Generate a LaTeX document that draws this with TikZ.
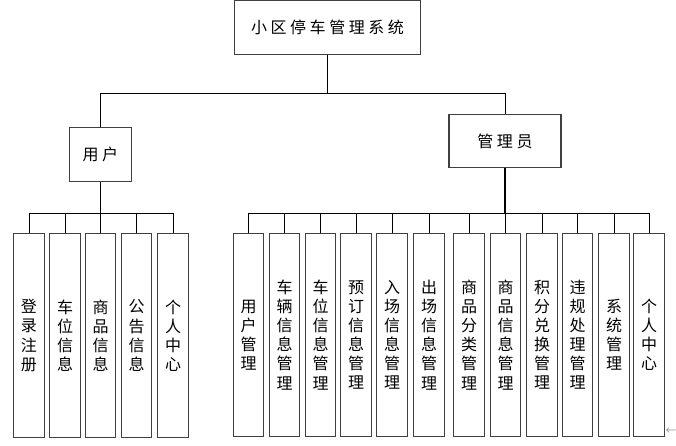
\documentclass[tikz,border=0pt]{standalone}
\usepackage{fontspec}
\newfontfamily\cjk{Noto Sans CJK SC}
\newfontfamily\cjkwide{Noto Sans CJK SC}[LetterSpace=22]
\usepackage{tikz}
\tikzset{x=.75pt, y=-.75pt}
\tikzset{
	box/.style={draw=black!75, line width=.8pt, inner sep=0pt, minimum height=40pt, font=\cjkwide\fontsize{12}{14}\selectfont},
	leaf/.style={draw=black!75, line width=.8pt, inner sep=0pt, minimum width=22.8pt, minimum height=152.5pt, align=center, font=\cjk\fontsize{12}{14.3}\selectfont},
	link/.style={line width=.75pt}
}

\begin{document}
\begin{tikzpicture}
	\useasboundingbox(0, 0)rectangle(676, 446);
	\node[box, minimum width=140pt](sys)at(327.5, 27.5){小区停车管理系统};
	\node[box, minimum width=47pt](user)at(100.5, 154.5){用户};
	\node[box, minimum width=84pt](admin)at(505, 141){管理员};
	\draw[link](sys.south)--++(0, 38.5)coordinate(bus);
	\draw[link](user.north)|-(bus)-|(admin.north);
	\draw[link, line width=1.1pt](user.south)--++(0, 31.5)coordinate(ubus);
	\draw[link, line width=1.1pt](admin.south)--++(0, 45)coordinate(abus);
	\foreach \x/\t [count=\i] in {29/{登\\录\\注\\册}, 65/{车\\位\\信\\息}, 100.5/{商\\品\\信\\息}, 136.5/{公\\告\\信\\息}, 173/{个\\人\\中\\心}}{
		\node[leaf](u\i)at(\x, 335.5){\t};
		\draw[link](u\i.north)|-(ubus);
	}
	\foreach \x/\t [count=\i] in {248.5/{用\\户\\管\\理}, 284.5/{车\\辆\\信\\息\\管\\理}, 320.5/{车\\位\\信\\息\\管\\理}, 356/{预\\订\\信\\息\\管\\理}, 392/{入\\场\\信\\息\\管\\理}, 429/{出\\场\\信\\息\\管\\理}, 469/{商\\品\\分\\类\\管\\理}, 505.5/{商\\品\\信\\息\\管\\理}, 542/{积\\分\\兑\\换\\管\\理}, 577.5/{违\\规\\处\\理\\管\\理}, 614/{系\\统\\管\\理}, 649/{个\\人\\中\\心}}{
		\node[leaf](a\i)at(\x, 335){\t};
		\draw[link](a\i.north)|-(abus);
	}
	\node[text=black!45, inner sep=0pt, font=\cjk\fontsize{8}{8}\selectfont](ret)at(671, 431){←};
\end{tikzpicture}
\end{document}
